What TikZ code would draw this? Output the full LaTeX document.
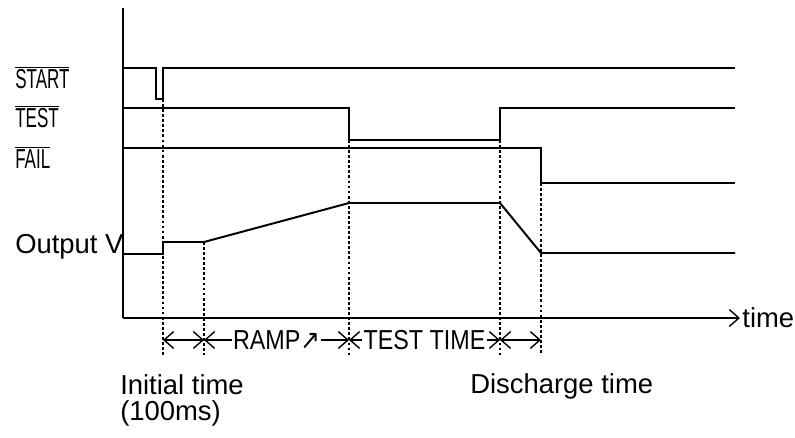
\documentclass[tikz,border=0pt]{standalone}
\usepackage{fontspec}
\setmainfont{Liberation Sans}
\newfontfamily\arrowfont{DejaVu Sans}
\usetikzlibrary{arrows.meta,positioning}
\newcommand{\squeeze}[2][0.85]{\scalebox{#1}[1]{#2}}
\newcommand{\activelow}[1]{$\overline{\mbox{\squeeze[0.62]{#1}}}$}

\begin{document}
\begin{tikzpicture}[x=0.025cm,y=-0.025cm,font=\fontsize{19.5}{19}\selectfont]
    \tikzset{
      sig/.style={line width=1.4pt},
      guide/.style={line width=1.3pt,dash pattern=on 2pt off 1.6pt},
      barb/.tip={Straight Barb[length=2.4mm,width=4.2mm,line width=1pt]},
      dim/.style={barb-barb,line width=1pt},
      lbl/.style={inner sep=0pt,anchor=base west}
    }
    \useasboundingbox (0,0) rectangle (795,437);
    % axes
    \coordinate (origin) at (123,318);
    \draw[sig] (123,8) -- (origin);
    \draw[sig,-barb] (origin) -- (740,318) node[lbl,right=1pt] (time) {time};
    % signals
    \draw[sig] (123,68) -- (156,68) -- (156,99) -- (163,99) -- (163,68) -- (735,68);
    \draw[sig] (123,108) -- (349,108) -- (349,140) -- (500,140) -- (500,108) -- (735,108);
    \draw[sig] (123,148) -- (541,148) -- (541,183) -- (735,183);
    \draw[sig] (123,254) -- (163,254) -- (163,242) -- (204,242) -- (349,203) -- (500,203) -- (541,253) -- (735,253);
    \node[lbl] (start) at (15,88) {\activelow{START}};
    \node[lbl] (test) at (15,127) {\activelow{TEST}};
    \node[lbl] (fail) at (15,168) {\activelow{FAIL}};
    \node[lbl] (outv) at (15,253) {Output V};
    % guides
    \foreach \x/\y in {163/99,204/242,349/140,500/140,541/183}
      \draw[guide] (\x,\y) -- (\x,355);
    % durations
    \coordinate (tinit) at (163,340);
    \coordinate (tramp) at (204,340);
    \coordinate (ttest) at (349,340);
    \coordinate (tdis) at (500,340);
    \coordinate (tend) at (541,340);
    \draw[dim] (tinit) -- (tramp);
    \draw[dim] (tramp) -- node[fill=white,inner sep=1pt] (ramp) {\squeeze{RAMP{\arrowfont ↗}}} (ttest);
    \draw[dim] (ttest) -- node[fill=white,inner sep=1pt] (testtime) {\squeeze{TEST TIME}} (tdis);
    \draw[dim] (tdis) -- (tend);
    \node[anchor=north west,align=left,inner sep=0pt] (init) at (120,374) {Initial time\\(100ms)};
    \node[lbl] (dis) at (470,393) {Discharge time};
\end{tikzpicture}
\end{document}
